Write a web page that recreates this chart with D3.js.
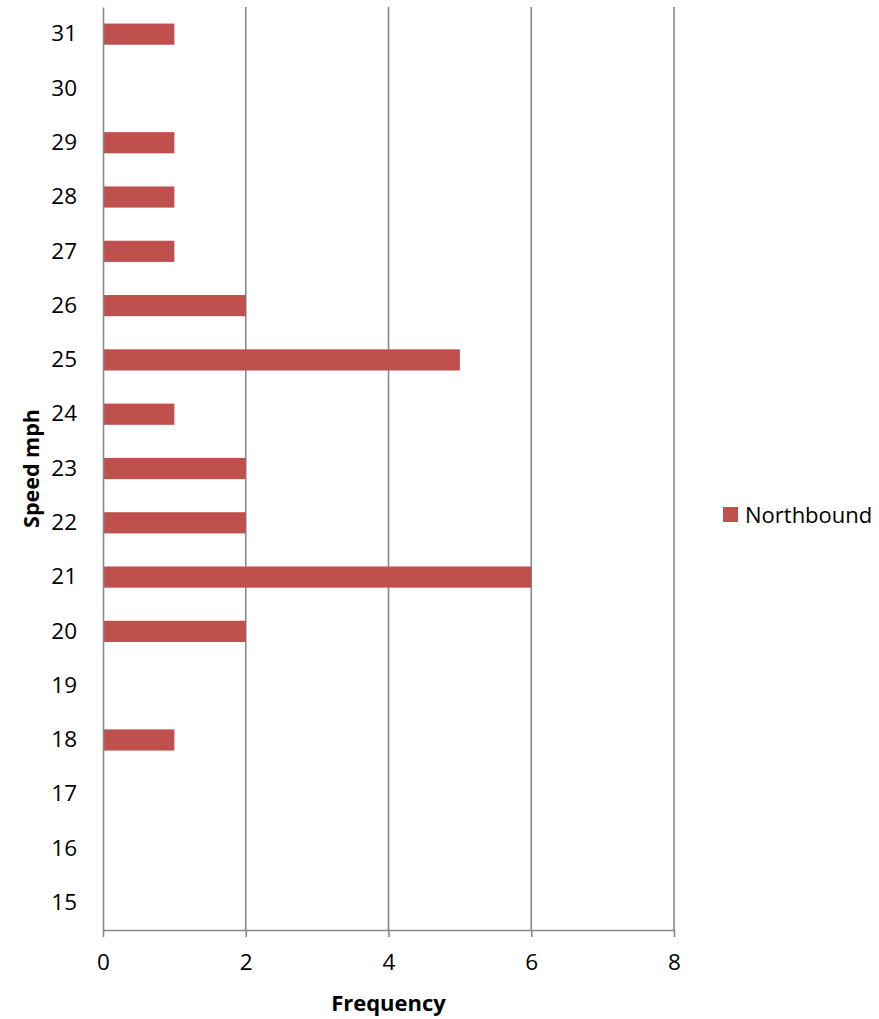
<!DOCTYPE html>
<html>
<head>
<meta charset="utf-8">
<script src="https://cdn.jsdelivr.net/npm/d3@7"></script>
<style>
    body { margin: 0; background: #fff; }
    svg { display: block; font-family: "Open Sans", sans-serif; }
</style>
</head>
<body>
<div id="chart"></div>
<script>
// Speed categories (bottom to top) and northbound counts
const speeds = [15, 16, 17, 18, 19, 20, 21, 22, 23, 24, 25, 26, 27, 28, 29, 30, 31];
const northbound = [0, 0, 0, 1, 0, 2, 6, 2, 2, 1, 5, 2, 1, 1, 1, 0, 1];
const xTicks = [0, 2, 4, 6, 8];
const seriesName = "Northbound";

const width = 879, height = 1019;
const margin = { top: 7, right: 205, bottom: 89, left: 103 };

const svg = d3.select("#chart").append("svg")
    .attr("width", width)
    .attr("height", height);

const x = d3.scaleLinear()
    .domain([0, 8])
    .range([margin.left, width - margin.right]);

const y = d3.scaleBand()
    .domain(speeds.slice().reverse())
    .range([margin.top, height - margin.bottom])
    .paddingInner(0.61)
    .paddingOuter(0.305);

// vertical gridlines
svg.append("g")
    .selectAll("line")
    .data(xTicks.filter(d => d > 0))
    .join("line")
    .attr("x1", d => x(d))
    .attr("x2", d => x(d))
    .attr("y1", margin.top)
    .attr("y2", height - margin.bottom)
    .attr("stroke", "#898989")
    .attr("stroke-width", 1.6);

// bars
svg.append("g")
    .selectAll("rect")
    .data(speeds.map((s, i) => ({ speed: s, value: northbound[i] })))
    .join("rect")
    .attr("x", x(0))
    .attr("y", d => y(d.speed))
    .attr("width", d => x(d.value) - x(0))
    .attr("height", y.bandwidth())
    .attr("fill", "#C0504D");

// x axis
const xAxis = svg.append("g")
    .attr("transform", `translate(0,${height - margin.bottom})`)
    .call(d3.axisBottom(x).tickValues(xTicks).tickSize(7).tickPadding(17).tickSizeOuter(0));
xAxis.attr("font-size", null).attr("font-family", null);
xAxis.select(".domain").attr("stroke", "#898989").attr("stroke-width", 1.6);
xAxis.selectAll(".tick line").attr("stroke", "#898989").attr("stroke-width", 1.6);
xAxis.selectAll("text").style("font-size", "22.5px").attr("fill", "#000");

// y axis
const yAxis = svg.append("g")
    .attr("transform", `translate(${margin.left},0)`)
    .call(d3.axisLeft(y).tickSize(0).tickPadding(26));
yAxis.attr("font-size", null).attr("font-family", null);
yAxis.select(".domain").attr("stroke", "#898989").attr("stroke-width", 1.6);
yAxis.selectAll("text").style("font-size", "22.5px").attr("fill", "#000");

// axis titles
svg.append("text")
    .attr("x", (x(0) + x(8)) / 2)
    .attr("y", 1011)
    .attr("text-anchor", "middle")
    .style("font-size", "22px")
    .attr("font-weight", "bold")
    .text("Frequency");

svg.append("text")
    .attr("transform", `translate(39,${(margin.top + height - margin.bottom) / 2}) rotate(-90)`)
    .attr("text-anchor", "middle")
    .style("font-size", "21.5px")
    .attr("font-weight", "bold")
    .text("Speed mph");

// legend
const legend = svg.append("g").attr("transform", "translate(723,507)");
legend.append("rect")
    .attr("width", 15)
    .attr("height", 15)
    .attr("fill", "#C0504D");
legend.append("text")
    .attr("x", 22)
    .attr("y", 16)
    .style("font-size", "22px")
    .text(seriesName);
</script>
</body>
</html>
